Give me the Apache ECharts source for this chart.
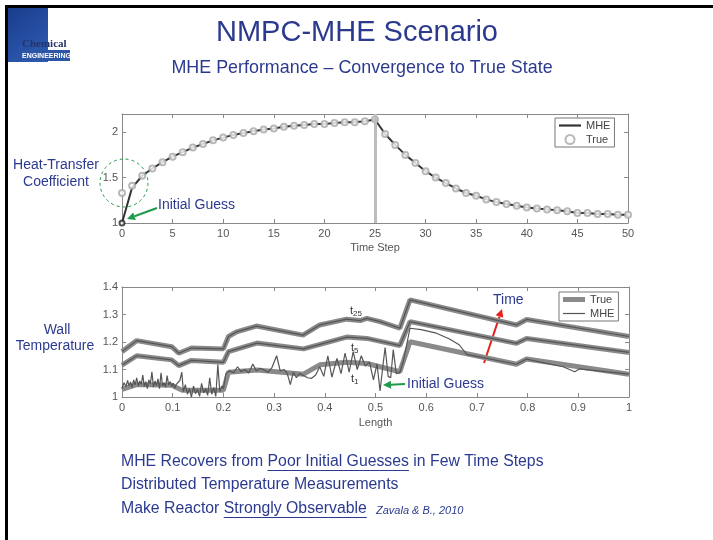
<!DOCTYPE html>
<html>
<head>
<meta charset="utf-8">
<script src="https://cdn.jsdelivr.net/npm/echarts@6/dist/echarts.min.js"></script>
<style>
  html, body { margin: 0; padding: 0; background: #fff; }
  #chart { width: 713px; height: 540px; }
</style>
</head>
<body>
<div id="chart"></div>
<script>
// ---- data ----
const timeSteps = [0,1,2,3,4,5,6,7,8,9,10,11,12,13,14,15,16,17,18,19,20,21,22,23,24,25,
  26,27,28,29,30,31,32,33,34,35,36,37,38,39,40,41,42,43,44,45,46,47,48,49,50]
const trueCoef = [1.33,1.41,1.52,1.60,1.67,1.73,1.78,1.83,1.87,1.91,1.94,1.97,1.99,2.01,2.03,2.04,2.06,2.07,2.08,2.09,2.09,2.10,2.11,2.11,2.12,2.14,
  1.98,1.86,1.75,1.66,1.57,1.50,1.44,1.38,1.33,1.30,1.26,1.23,1.21,1.19,1.17,1.16,1.15,1.14,1.13,1.11,1.11,1.10,1.10,1.09,1.09]
const mheCoef = [1.00,1.39,1.52,1.60,1.67,1.73,1.78,1.83,1.87,1.91,1.94,1.97,1.99,2.01,2.03,2.04,2.06,2.07,2.08,2.09,2.09,2.10,2.11,2.11,2.12,2.14,
  1.98,1.86,1.75,1.66,1.57,1.50,1.44,1.38,1.33,1.30,1.26,1.23,1.21,1.19,1.17,1.16,1.15,1.14,1.13,1.11,1.11,1.10,1.10,1.09,1.09]
const initialGuess = [[0, 1.00]]

// wall temperature profiles [length, T]
const trueT25 = [[0,1.165],[0.029,1.205],[0.098,1.183],[0.112,1.159],[0.137,1.178],[0.2,1.175],[0.21,1.22],[0.226,1.237],[0.265,1.258],
  [0.357,1.225],[0.39,1.262],[0.443,1.283],[0.47,1.278],[0.483,1.286],[0.509,1.274],[0.548,1.25],[0.568,1.353],[0.778,1.262],[0.798,1.282],[1.0,1.22]]
const trueT5 = [[0,1.116],[0.029,1.150],[0.098,1.135],[0.112,1.114],[0.137,1.133],[0.2,1.126],[0.21,1.165],[0.266,1.196],[0.358,1.175],
  [0.443,1.218],[0.483,1.213],[0.548,1.187],[0.568,1.274],[0.778,1.195],[0.798,1.213],[1.0,1.162]]
const trueT1 = [[0,1.028],[0.029,1.045],[0.098,1.043],[0.118,1.025],[0.2,1.025],[0.21,1.090],[0.266,1.098],[0.358,1.083],[0.39,1.117],
  [0.443,1.126],[0.483,1.122],[0.548,1.092],[0.568,1.201],[0.778,1.119],[0.798,1.138],[1.0,1.083]]
// MHE at t25 and t5 sits on the true profile
const mheT25 = trueT25
const mheT5 = trueT5
const mheT1 = [[0.000,1.030],[0.004,1.052],[0.008,1.038],[0.011,1.060],[0.014,1.041],[0.017,1.055],[0.020,1.035],[0.023,1.062],[0.026,1.044],
  [0.029,1.070],[0.032,1.040],[0.035,1.058],[0.038,1.046],[0.041,1.080],[0.044,1.038],[0.047,1.056],[0.050,1.030],[0.053,1.062],[0.056,1.048],
  [0.059,1.092],[0.062,1.036],[0.065,1.058],[0.068,1.042],[0.071,1.066],[0.074,1.030],[0.077,1.088],[0.080,1.040],[0.083,1.052],[0.086,1.035],
  [0.089,1.078],[0.092,1.044],[0.095,1.056],[0.098,1.038],[0.101,1.050],[0.104,1.032],[0.107,1.046],[0.110,1.040],[0.114,1.060],[0.118,1.090],
  [0.121,1.020],[0.125,1.045],[0.129,1.010],[0.133,1.030],[0.137,1.000],[0.141,1.040],[0.145,1.012],[0.149,1.028],[0.153,1.002],[0.157,1.050],
  [0.161,1.015],[0.165,1.030],[0.169,1.006],[0.173,1.070],[0.177,1.010],[0.181,1.035],[0.185,1.002],[0.189,1.118],[0.193,1.020],[0.197,1.040],
  [0.200,1.030],[0.205,1.085],[0.212,1.095],[0.220,1.088],[0.228,1.110],[0.235,1.092],[0.242,1.100],[0.250,1.087],[0.258,1.120],[0.265,1.095],
  [0.272,1.104],[0.280,1.098],[0.288,1.090],[0.296,1.108],[0.305,1.150],[0.312,1.095],[0.320,1.100],[0.326,1.085],[0.332,1.045],[0.338,1.090],
  [0.344,1.070],[0.350,1.085],[0.358,1.078],[0.366,1.070],[0.374,1.068],[0.382,1.080],[0.390,1.110],[0.398,1.075],[0.406,1.150],[0.414,1.072],
  [0.424,1.140],[0.432,1.085],[0.440,1.160],[0.448,1.090],[0.456,1.165],[0.464,1.100],[0.472,1.150],[0.480,1.112],[0.488,1.128],[0.496,1.062],
  [0.503,1.120],[0.509,1.022],[0.515,1.120],[0.519,1.180],[0.525,1.075],[0.530,1.070],[0.535,1.172],[0.541,1.085],[0.548,1.090],[0.555,1.130],
  [0.568,1.250],[0.590,1.245],[0.620,1.232],[0.645,1.212],[0.665,1.190],[0.680,1.155],[0.700,1.148],[0.778,1.119],[0.798,1.138],[0.870,1.110],
  [0.885,1.098],[0.893,1.092],[0.902,1.102],[1.000,1.083]]

const topYTicks = [1, 1.5, 2]

// ---- styling ----
const FONT = "'Liberation Sans', Arial, sans-serif"
const BLUE = "#2b3a8f"
const GREEN = "#1f9a4c"
const RED = "#e3231c"
const AXIS = "#888"
const LABEL = "#555"

const chart = echarts.init(document.getElementById("chart"))

function zip(xs, ys) { return xs.map((x, i) => [x, ys[i]]) }

function measure(text, font) {
  const ctx = document.createElement("canvas").getContext("2d")
  ctx.font = font
  return ctx.measureText(text).width
}

function arrow(x1, y1, x2, y2, color) {
  const a = Math.atan2(y2 - y1, x2 - x1)
  const len = 8, half = 4
  const bx = x2 - len * Math.cos(a), by = y2 - len * Math.sin(a)
  const px = -Math.sin(a) * half, py = Math.cos(a) * half
  return [
    { type: "line", shape: { x1, y1, x2: bx, y2: by }, style: { stroke: color, lineWidth: 2 } },
    { type: "polygon", shape: { points: [[x2, y2], [bx + px, by + py], [bx - px, by - py]] }, style: { fill: color } },
  ]
}

function txt(x, y, text, opts) {
  return {
    type: "text", x, y,
    style: Object.assign({ text, fill: BLUE, font: "14px " + FONT, textVerticalAlign: "middle" }, opts || {}),
  }
}

function subLabel(x, y, sub) {
  return { type: "text", x, y, style: { text: "{a|t}{b|" + sub + "}", fill: "#333", textVerticalAlign: "middle",
    rich: { a: { fontSize: 11, fontFamily: FONT, color: "#333" },
            b: { fontSize: 8, fontFamily: FONT, color: "#333", verticalAlign: "bottom", padding: [6, 0, 0, 0] } } } }
}

function boxAxis(grid, pos, min, max, interval, extra) {
  return Object.assign({
    type: "value", gridIndex: grid, position: pos, min, max, interval,
    axisLine: { show: true, onZero: false, lineStyle: { color: AXIS, width: 1 } },
    axisTick: { show: true, inside: true, length: 4, lineStyle: { color: AXIS } },
    axisLabel: { show: false },
    splitLine: { show: false },
  }, extra || {})
}

const tickLabel = { color: LABEL, fontSize: 11, fontFamily: FONT }
const legendBox = {
  orient: "vertical", backgroundColor: "#fff", borderColor: "#777", borderWidth: 1,
  padding: [2, 4, 2, 4], itemWidth: 22, itemHeight: 9, itemGap: 3,
  textStyle: { fontSize: 11, color: "#444", fontFamily: FONT },
}

// bullet text, underlines measured from the text itself
const bodyFont = "15.8px " + FONT
const row1a = "MHE Recovers from ", row1b = "Poor Initial Guesses"
const row3a = "Make Reactor ", row3b = "Strongly Observable"
const u1x = 121 + measure(row1a, bodyFont), u1w = measure(row1b, bodyFont)
const u3x = 121 + measure(row3a, bodyFont), u3w = measure(row3b, bodyFont)

const graphics = [
  // slide frame
  { type: "polyline", shape: { points: [[6.5, 540], [6.5, 6.5], [713, 6.5]] }, style: { stroke: "#000", lineWidth: 3, fill: null } },
  // logo
  { type: "rect", shape: { x: 8, y: 8, width: 40, height: 54 },
    style: { fill: new echarts.graphic.LinearGradient(0, 0, 1, 1, [{ offset: 0, color: "#1a3c8c" }, { offset: 1, color: "#2f5fb5" }]) } },
  { type: "rect", shape: { x: 22, y: 50, width: 48, height: 11 }, style: { fill: "#2d55a6" } },
  { type: "text", x: 22, y: 44, style: { text: "Chemical", font: "bold 11px 'Liberation Serif', serif", fill: "#25336a", textVerticalAlign: "middle" } },
  { type: "text", x: 22, y: 56, style: { text: "ENGINEERING", font: "bold 7px " + FONT, fill: "#fff", textVerticalAlign: "middle" } },
  // titles
  txt(357, 33, "NMPC-MHE Scenario", { font: "29px " + FONT, textAlign: "center" }),
  txt(362, 68, "MHE Performance \u2013 Convergence to True State", { font: "17.9px " + FONT, textAlign: "center" }),
  // side labels
  txt(56, 165, "Heat-Transfer", { textAlign: "center" }),
  txt(56, 182, "Coefficient", { textAlign: "center" }),
  txt(57, 330, "Wall", { textAlign: "center" }),
  txt(55, 346, "Temperature", { textAlign: "center" }),
  // top chart annotations
  { type: "circle", shape: { cx: 124, cy: 183, r: 24 }, style: { stroke: GREEN, fill: null, lineWidth: 1, lineDash: [3, 3] }, z: 10 },
  ...arrow(157, 208, 127, 219, GREEN),
  txt(158, 205, "Initial Guess"),
  // bottom chart annotations
  ...arrow(405, 384, 383, 385, GREEN),
  txt(407, 384, "Initial Guess"),
  ...arrow(484, 363, 502, 309, RED),
  txt(493, 300, "Time"),
  subLabel(350, 311, "25"),
  subLabel(351, 348, "5"),
  subLabel(351, 379, "1"),
  // bullet text
  txt(121, 462, row1a + row1b + " in Few Time Steps", { font: bodyFont }),
  { type: "line", shape: { x1: u1x, y1: 470.5, x2: u1x + u1w, y2: 470.5 }, style: { stroke: BLUE, lineWidth: 1 } },
  txt(121, 485, "Distributed Temperature Measurements", { font: bodyFont }),
  txt(121, 509, row3a + row3b, { font: bodyFont }),
  { type: "line", shape: { x1: u3x, y1: 517.5, x2: u3x + u3w, y2: 517.5 }, style: { stroke: BLUE, lineWidth: 1 } },
  txt(376, 511, "Zavala & B., 2010", { font: "italic 11px " + FONT }),
]

const option = {
  backgroundColor: "#fff",
  animation: false,
  textStyle: { fontFamily: FONT },
  grid: [
    { left: 122, top: 114, width: 506, height: 109 },
    { left: 122, top: 287, width: 507, height: 110 },
  ],
  xAxis: [
    boxAxis(0, "bottom", 0, 50, 5, {
      axisLabel: Object.assign({ show: true, margin: 5 }, tickLabel),
      name: "Time Step", nameLocation: "middle", nameGap: 19,
      nameTextStyle: { color: LABEL, fontSize: 11, fontFamily: FONT },
    }),
    boxAxis(0, "top", 0, 50, 5),
    boxAxis(1, "bottom", 0, 1, 0.1, {
      axisLabel: Object.assign({ show: true, margin: 5 }, tickLabel),
      name: "Length", nameLocation: "middle", nameGap: 20,
      nameTextStyle: { color: LABEL, fontSize: 11, fontFamily: FONT },
    }),
    boxAxis(1, "top", 0, 1, 0.1),
  ],
  yAxis: [
    boxAxis(0, "left", 1, 2.2, 0.5, {
      axisLabel: Object.assign({ show: true, margin: 4,
        formatter: v => topYTicks.some(t => Math.abs(t - v) < 1e-6) ? String(v) : "" }, tickLabel),
    }),
    boxAxis(0, "right", 1, 2.2, 0.5),
    boxAxis(1, "left", 1, 1.4, 0.1, { axisLabel: Object.assign({ show: true, margin: 4 }, tickLabel) }),
    boxAxis(1, "right", 1, 1.4, 0.1),
  ],
  legend: [
    Object.assign({}, legendBox, {
      left: 555, top: 118,
      data: [{ name: "MHE", icon: "path://M0,0L22,0L22,2.2L0,2.2Z" }, "True"],
    }),
    Object.assign({}, legendBox, {
      left: 559, top: 292,
      data: [{ name: "True (wall)", icon: "path://M0,0L22,0L22,5L0,5Z" },
             { name: "MHE (wall)", icon: "path://M0,0L22,0L22,1.2L0,1.2Z" }],
      formatter: n => n.split(" ")[0],
    }),
  ],
  series: [
    {
      name: "MHE", type: "line", xAxisIndex: 0, yAxisIndex: 0,
      data: zip(timeSteps, mheCoef), symbol: "none",
      lineStyle: { color: "#333", width: 2 }, itemStyle: { color: "#333" }, z: 3,
      markLine: {
        symbol: "none", silent: true, label: { show: false },
        lineStyle: { color: "#bdbdbd", width: 3, type: "solid" },
        data: [{ xAxis: 25 }],
      },
    },
    {
      name: "True", type: "scatter", xAxisIndex: 0, yAxisIndex: 0,
      data: zip(timeSteps, trueCoef),
      symbol: "emptyCircle", symbolSize: 6,
      itemStyle: { color: "#a8a8a8", borderWidth: 1 }, z: 4,
    },
    {
      name: "initial", type: "scatter", xAxisIndex: 0, yAxisIndex: 0,
      data: initialGuess, symbol: "emptyCircle", symbolSize: 5,
      itemStyle: { color: "#222", borderWidth: 1.2 }, z: 5,
    },
    ...[trueT25, trueT5, trueT1].map(d => ({
      name: "True (wall)", type: "line", xAxisIndex: 2, yAxisIndex: 2, data: d,
      symbol: "none", lineStyle: { color: "#8a8a8a", width: 5 }, itemStyle: { color: "#8a8a8a" }, z: 2,
    })),
    ...[mheT25, mheT5, mheT1].map(d => ({
      name: "MHE (wall)", type: "line", xAxisIndex: 2, yAxisIndex: 2, data: d,
      symbol: "none", lineStyle: { color: "#555", width: 1.2 }, itemStyle: { color: "#555" }, z: 3,
    })),
  ],
  graphic: graphics,
}

chart.setOption(option)
</script>
</body>
</html>
